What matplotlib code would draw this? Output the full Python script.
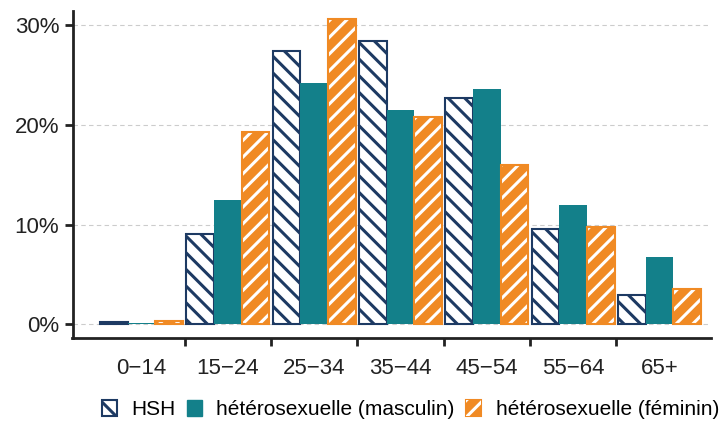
import numpy as np
import matplotlib
matplotlib.use("Agg")
import matplotlib.pyplot as plt
from matplotlib.patches import Patch
from matplotlib.legend_handler import HandlerTuple
from matplotlib.ticker import PercentFormatter

# Data (percent of cases per age group)
categories = ["0\u221214", "15\u221224", "25\u221234", "35\u221244", "45\u221254", "55\u221264", "65+"]
hsh = [0.2, 9.1, 27.4, 28.4, 22.7, 9.6, 2.9]
hetero_masc = [0.1, 12.5, 24.2, 21.5, 23.6, 12.0, 6.7]
hetero_fem = [0.3, 19.3, 30.6, 20.8, 16.0, 9.8, 3.5]
series_labels = ["HSH", "hétérosexuelle (masculin)", "hétérosexuelle (féminin)"]

navy = "#1d3a63"
teal = "#13808a"
orange = "#f08a24"

plt.rcParams["font.family"] = ["Liberation Sans", "DejaVu Sans"]
plt.rcParams["hatch.linewidth"] = 2.2

fig, ax = plt.subplots(figsize=(7.25, 4.21), dpi=100)
fig.subplots_adjust(left=0.1, right=0.981, top=0.975, bottom=0.197)

x = np.arange(len(categories))
w = 0.32

# HSH: white with navy stripes
ax.bar(x - w, hsh, w, facecolor="white", edgecolor=navy, hatch="\\\\", linewidth=1.5, zorder=3)
# hétérosexuelle masculin: solid teal
ax.bar(x, hetero_masc, w, color=teal, linewidth=0, zorder=3)
# hétérosexuelle féminin: orange with white stripes
ax.bar(x + w, hetero_fem, w, color=orange, linewidth=0, zorder=3)
ax.bar(x + w, hetero_fem, w, fill=False, edgecolor="white", hatch="//", linewidth=0, zorder=4)
ax.bar(x + w, hetero_fem, w, fill=False, edgecolor=orange, linewidth=1.5, zorder=5)

ax.set_ylim(-1.4, 31.5)
ax.set_xlim(-0.8, len(categories) - 0.4)
ax.set_yticks([0, 10, 20, 30])
ax.yaxis.set_major_formatter(PercentFormatter(decimals=0))
ax.yaxis.grid(True, linestyle=(0, (4, 3)), color="#cccccc", linewidth=0.8, zorder=0)

# ticks between groups, labels at group centres
ax.set_xticks(x[:-1] + 0.5)
ax.set_xticklabels([])
ax.set_xticks(x, minor=True)
ax.set_xticklabels(categories, minor=True)
ax.tick_params(axis="x", which="minor", length=0, labelsize=16, pad=14, colors="#222222")
ax.tick_params(axis="x", which="major", length=6, width=2, color="#222222")
ax.tick_params(axis="y", length=6, width=2, labelsize=16, color="#222222", labelcolor="#222222")

for s in ["top", "right"]:
    ax.spines[s].set_visible(False)
for s in ["left", "bottom"]:
    ax.spines[s].set_linewidth(2)
    ax.spines[s].set_color("#222222")

h_hsh = Patch(facecolor="white", edgecolor=navy, hatch="\\\\", linewidth=1.5)
h_masc = Patch(facecolor=teal, edgecolor=teal)
h_fem = (Patch(facecolor=orange, edgecolor=orange, linewidth=1.5),
         Patch(fill=False, edgecolor="white", hatch="//", linewidth=0))
fig.legend([h_hsh, h_masc, h_fem], series_labels,
           handler_map={tuple: HandlerTuple(ndivide=1, pad=0)},
           loc="lower center", ncol=3, frameon=False, fontsize=15,
           handlelength=0.72, handleheight=0.8, handletextpad=0.7,
           columnspacing=0.55, borderpad=0.2, bbox_to_anchor=(0.566, -0.03))

fig.savefig("out.png", dpi=100)
